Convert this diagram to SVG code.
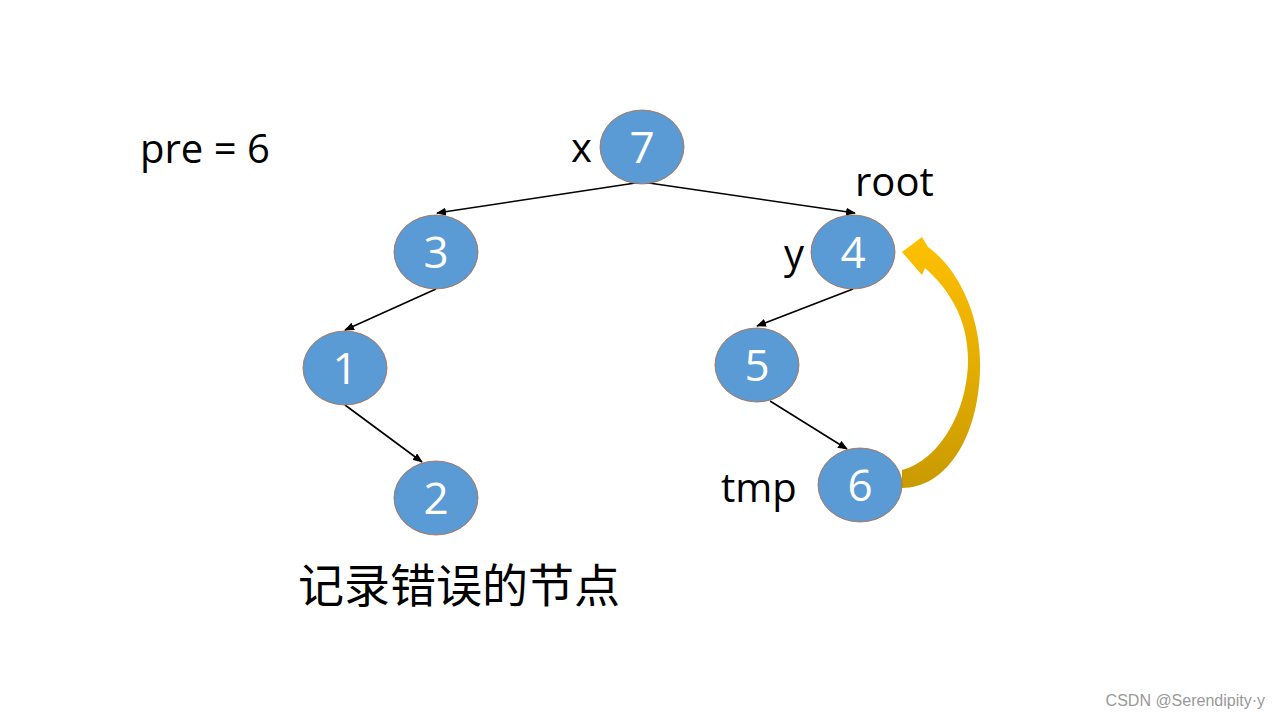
<svg xmlns="http://www.w3.org/2000/svg" width="1280" height="720" viewBox="0 0 1280 720">
<style>
.n{fill:#5B9BD5;stroke:#B0643A;stroke-width:0.8}
.nt{font-family:"Open Sans","Liberation Sans",sans-serif;font-size:44px;fill:#fff;text-anchor:middle}
.t{font-family:"Open Sans","Liberation Sans",sans-serif;font-size:40px;fill:#000}
.e{stroke:#000;stroke-width:1.6;fill:none;marker-end:url(#a)}
</style>
<defs>
<marker id="a" markerWidth="10" markerHeight="8" refX="9" refY="4" orient="auto" markerUnits="userSpaceOnUse"><path d="M0,0 L10,4 L0,8 Z" fill="#000"/></marker>
<linearGradient id="g" x1="0" y1="0" x2="0" y2="1"><stop offset="0" stop-color="#FFC000"/><stop offset="1" stop-color="#C99A00"/></linearGradient>
</defs>
<rect width="1280" height="720" fill="#fff"/>
<g id="edges">
<line class="e" x1="642" y1="182" x2="437" y2="213"/>
<line class="e" x1="642" y1="182" x2="855" y2="213"/>
<line class="e" x1="436" y1="289" x2="345" y2="330"/>
<line class="e" x1="345" y1="405" x2="422" y2="462"/>
<line class="e" x1="853" y1="289" x2="757" y2="326"/>
<line class="e" x1="770" y1="401" x2="847" y2="449"/>
<path d="M902,470 C940,460 968,410 968,360 C968,320 950,290 925,268 L922,275 L902,252 L922,237 L928,247 C960,270 982,320 980,370 C978,440 945,488 902,488 Z" fill="url(#g)"/>
</g>
<g id="n7"><ellipse class="n" cx="642" cy="147" rx="42" ry="37"/><text class="nt" x="642" y="163">7</text></g>
<g id="n3"><ellipse class="n" cx="436" cy="252" rx="42" ry="37"/><text class="nt" x="436" y="268">3</text></g>
<g id="n4"><ellipse class="n" cx="853" cy="252" rx="42" ry="37"/><text class="nt" x="853" y="268">4</text></g>
<g id="n1"><ellipse class="n" cx="345" cy="368" rx="42" ry="37"/><text class="nt" x="345" y="384">1</text></g>
<g id="n5"><ellipse class="n" cx="757" cy="365" rx="42" ry="37"/><text class="nt" x="757" y="381">5</text></g>
<g id="n2"><ellipse class="n" cx="436" cy="498" rx="42" ry="37"/><text class="nt" x="436" y="514">2</text></g>
<g id="n6"><ellipse class="n" cx="860" cy="485" rx="42" ry="37"/><text class="nt" x="860" y="501">6</text></g>
<text class="t" x="140" y="163">pre = 6</text>
<text class="t" x="571" y="162">x</text>
<text class="t" x="855" y="196">root</text>
<text class="t" x="784" y="268">y</text>
<text class="t" x="721" y="502">tmp</text>
<text x="298" y="602" font-family="'Noto Sans CJK SC',sans-serif" font-size="46" fill="#000">记录错误的节点</text>
<text x="1265" y="706" text-anchor="end" font-family="'Liberation Sans',sans-serif" font-size="16" fill="#999">CSDN @Serendipity·y</text>
</svg>
